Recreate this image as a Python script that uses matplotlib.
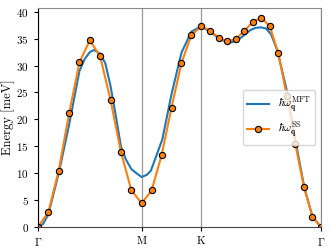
import numpy as np
import matplotlib.pyplot as plt

plt.rcParams['font.family'] = 'serif'
plt.rcParams['font.serif'] = ['cmr10', 'DejaVu Serif']
plt.rcParams['mathtext.fontset'] = 'cm'
plt.rcParams['axes.formatter.use_mathtext'] = True

# k-path Γ-M-K-Γ (hexagonal), segment lengths and points per segment
seg_len = [1.0, 1 / np.sqrt(3), 2 / np.sqrt(3)]
seg_pts = [11, 7, 15]
tick_names = [r'$\Gamma$', 'M', 'K', r'$\Gamma$']

# spin-wave energies from the simulation (meV)
e_ss = [0.0, 2.8, 10.5, 21.1, 30.6, 34.7, 31.7, 23.6, 14.0, 6.9, 4.4,
        6.8, 13.3, 22.2, 30.5, 35.7, 37.3,
        36.5, 35.2, 34.5, 34.9, 36.4, 38.1, 38.9, 37.3, 32.3, 24.3, 15.4, 7.4, 1.9, 0.0]

# mean-field theory curve (path distance, meV)
k_mft = [0.0, 0.05, 0.1, 0.2, 0.3, 0.4, 0.45, 0.5, 0.54, 0.6, 0.65, 0.7, 0.75, 0.8, 0.85,
         0.9, 0.95, 1.0, 1.05, 1.09, 1.2, 1.29, 1.385, 1.48, 1.577, 1.66, 1.75, 1.84,
         1.92, 2.0, 2.05, 2.1, 2.15, 2.2, 2.25, 2.31, 2.40, 2.49, 2.57, 2.65, 2.732]
e_mft = [0.0, 0.6, 2.4, 10.0, 19.0, 29.0, 31.2, 32.5, 32.9, 32.2, 30.4, 26.2, 20.8, 15.0, 12.5,
         10.8, 10.0, 9.3, 9.7, 10.5, 16.3, 24.8, 32.4, 36.3, 37.3, 36.3, 35.0, 34.2,
         34.6, 35.8, 36.6, 37.0, 37.1, 36.9, 35.8, 32.8, 25.5, 15.6, 7.4, 1.9, 0.0]

# path coordinate of the simulated points
k_ss = []
start = 0.0
for i, (L, n) in enumerate(zip(seg_len, seg_pts)):
    pts = np.linspace(start, start + L, n)
    if i > 0:
        pts = pts[1:]
    k_ss.extend(pts)
    start += L
tick_pos = np.concatenate([[0], np.cumsum(seg_len)])

fig = plt.figure(figsize=(3.32, 2.49), dpi=100)
ax = fig.add_axes([0.1145, 0.088, 0.8525, 0.88])

for p in tick_pos:
    ax.axvline(p, color='#999999', lw=0.9, zorder=0)

ax.plot(k_mft, e_mft, color='#1f77b4', lw=1.5, label=r'$\hbar\omega_{\mathbf{q}}^{\mathrm{MFT}}$')
ax.plot(k_ss, e_ss, color='#ff7f0e', lw=1.5, marker='o', ms=4.5, mfc='#ff7f0e',
        mec='black', mew=0.8, label=r'$\hbar\omega_{\mathbf{q}}^{\mathrm{SS}}$')

ax.set_xlim(tick_pos[0], tick_pos[-1])
ax.set_ylim(0, 40.7)
ax.set_xticks(tick_pos)
ax.set_xticklabels(tick_names)
ax.set_yticks([0, 5, 10, 15, 20, 25, 30, 35, 40])
ax.tick_params(labelsize=8, length=3)
ax.set_ylabel('Energy [meV]', fontsize=9, labelpad=1)
for s in ['top', 'right']:
    ax.spines[s].set_color('#888888')
ax.spines['bottom'].set_color('#444444')
ax.legend(loc='center right', fontsize=8, framealpha=0.8, handlelength=2.0)

fig.savefig('out.png', dpi=100)
